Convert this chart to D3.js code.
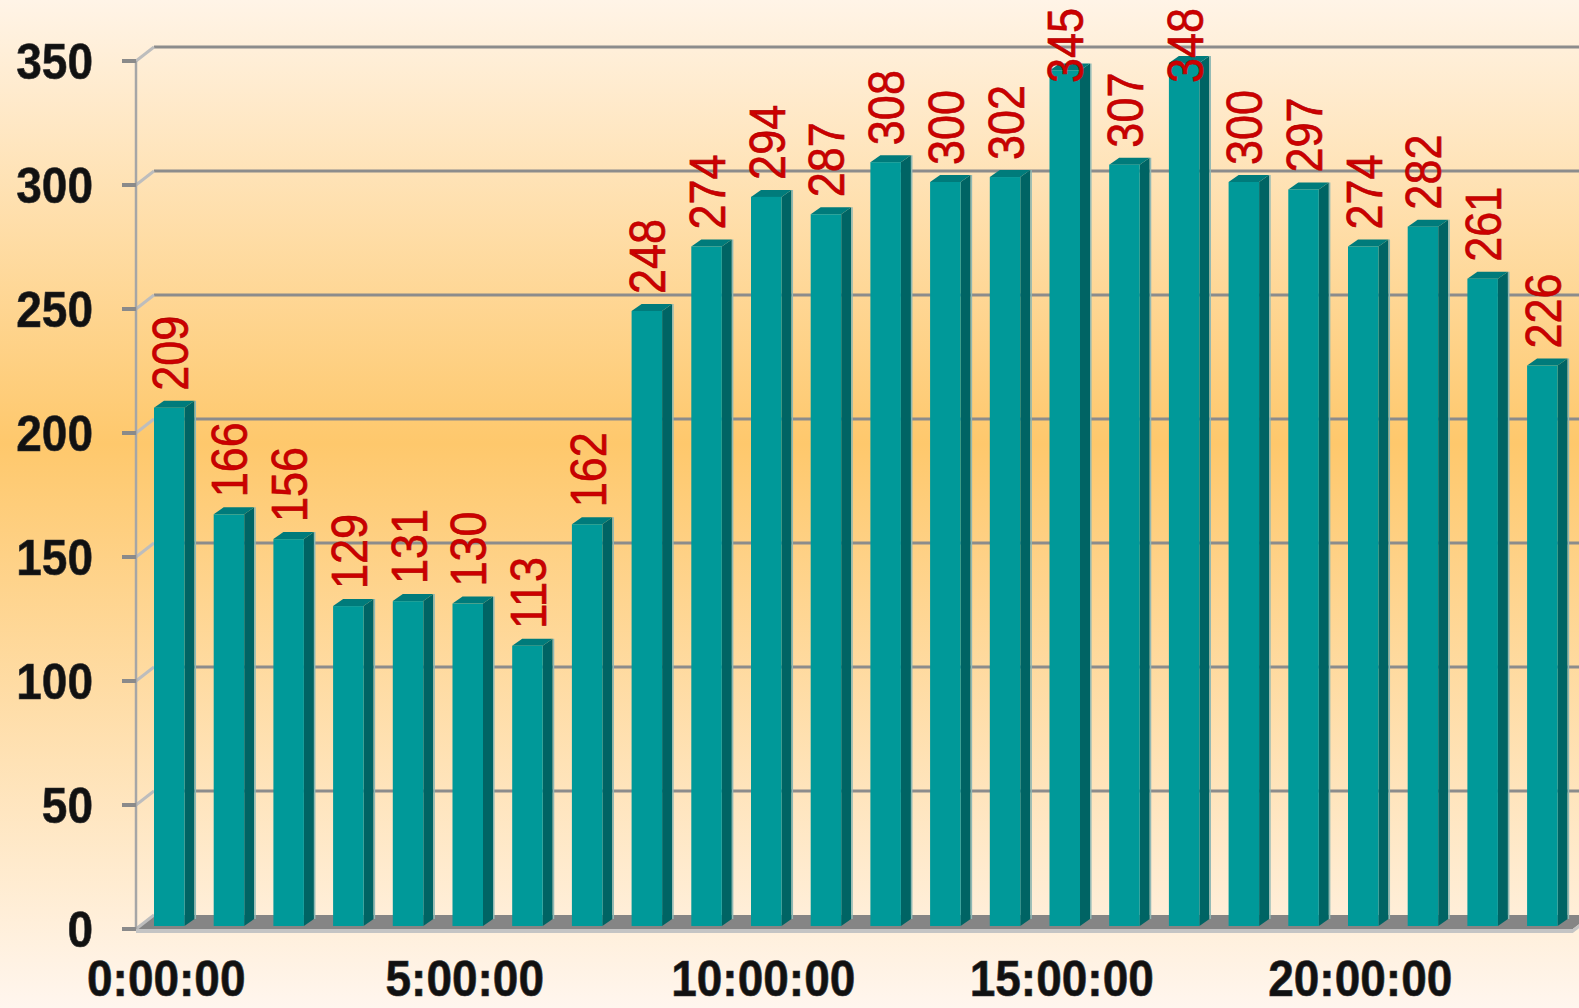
<!DOCTYPE html>
<html>
<head>
<meta charset="utf-8">
<script src="https://cdn.jsdelivr.net/npm/d3@7"></script>
<style>
  html, body { margin: 0; padding: 0; overflow: hidden; }
  svg { display: block; }
</style>
</head>
<body>
<svg id="chart" width="1579" height="1008"></svg>
<script>
// ---- data ----
const hours = ["0:00:00","1:00:00","2:00:00","3:00:00","4:00:00","5:00:00","6:00:00","7:00:00",
  "8:00:00","9:00:00","10:00:00","11:00:00","12:00:00","13:00:00","14:00:00","15:00:00",
  "16:00:00","17:00:00","18:00:00","19:00:00","20:00:00","21:00:00","22:00:00","23:00:00"];
const values = [209,166,156,129,131,130,113,162,248,274,294,287,308,300,302,345,307,348,300,297,274,282,261,226];
const yTicks = [0,50,100,150,200,250,300,350];
const xLabelShown = ["0:00:00","5:00:00","10:00:00","15:00:00","20:00:00"];

// ---- layout ----
const W = 1579, H = 1008;
const svg = d3.select("#chart");
const depthX = 18, depthY = -14;     // wall depth
const barDX = 10, barDY = -7;        // bar depth
const axisX = 136;

const yFront = d3.scaleLinear().domain([0, 350]).range([929, 61]);
const yBack  = d3.scaleLinear().domain([0, 350]).range([929 + depthY, 61 + depthY]);
const yBar   = d3.scaleLinear().domain([0, 350]).range([926, 58]);
const x = d3.scaleBand().domain(hours).range([139.4, 139.4 + 24 * 59.7])
  .paddingInner(0.489).paddingOuter(0.2445);

// ---- background ----
const defs = svg.append("defs");
const bg = defs.append("linearGradient").attr("id", "bg").attr("x1", 0).attr("y1", 0).attr("x2", 0).attr("y2", 1);
bg.append("stop").attr("offset", "0%").attr("stop-color", "#fff4e7");
bg.append("stop").attr("offset", "44%").attr("stop-color", "#fec86c");
bg.append("stop").attr("offset", "100%").attr("stop-color", "#fff6ee");
svg.append("rect").attr("width", W).attr("height", H).attr("fill", "url(#bg)");

// ---- floor ----
const floorRight = axisX + 24 * 59.7 + 4;
svg.append("path")
  .attr("d", `M${axisX},${yFront(0)} L${axisX + depthX},${yBack(0)} L${floorRight + depthX},${yBack(0)} L${floorRight},${yFront(0)} Z`)
  .attr("fill", "#858585");
svg.append("path")
  .attr("d", `M${axisX},${yFront(0)} L${floorRight},${yFront(0)} L${floorRight + depthX},${yBack(0)} L${floorRight + depthX},${yBack(0) + 4} L${floorRight},${yFront(0) + 4} L${axisX},${yFront(0) + 4} Z`)
  .attr("fill", "#c4c4c4");

// ---- gridlines (back wall) ----
svg.append("g").selectAll("line").data(yTicks.filter(d => d > 0)).join("line")
  .attr("x1", axisX + depthX).attr("x2", W)
  .attr("y1", d => yBack(d)).attr("y2", d => yBack(d))
  .attr("stroke", "#8c8c8c").attr("stroke-width", 3);

// side-wall diagonals
svg.append("g").selectAll("line").data(yTicks).join("line")
  .attr("x1", axisX).attr("y1", d => yFront(d))
  .attr("x2", axisX + depthX).attr("y2", d => yBack(d))
  .attr("stroke", "#bdbdbd").attr("stroke-width", 3);

// vertical axis line
svg.append("line").attr("x1", axisX).attr("x2", axisX)
  .attr("y1", yFront(350)).attr("y2", yFront(0))
  .attr("stroke", "#a6a6a6").attr("stroke-width", 2.5);

// tick marks
svg.append("g").selectAll("line").data(yTicks).join("line")
  .attr("x1", axisX - 14).attr("x2", axisX)
  .attr("y1", d => yFront(d)).attr("y2", d => yFront(d))
  .attr("stroke", "#8a8a8a").attr("stroke-width", 4);

// y tick labels
svg.append("g").selectAll("text").data(yTicks).join("text")
  .attr("transform", d => `translate(93,${yFront(d)}) scale(1,1.1)`)
  .attr("text-anchor", "end").attr("dy", "0.36em")
  .attr("font-family", "Liberation Sans, Arial, sans-serif")
  .attr("font-weight", "bold").attr("font-size", 46)
  .attr("fill", "#111").attr("stroke", "#333").attr("stroke-width", 0.6)
  .text(d => d);

// ---- bars ----
const bw = x.bandwidth();
const bars = svg.append("g").selectAll("g").data(values.map((v, i) => ({h: hours[i], v}))).join("g");
// side face
bars.append("path")
  .attr("d", d => {
    const x0 = x(d.h) + bw, yt = yBar(d.v), yb = yBar(0);
    return `M${x0},${yt} L${x0 + barDX},${yt + barDY} L${x0 + barDX},${yb + barDY} L${x0},${yb} Z`;
  })
  .attr("fill", "#006464");
// light edge of side
bars.append("line")
  .attr("x1", d => x(d.h) + bw + barDX + 0.8).attr("x2", d => x(d.h) + bw + barDX + 0.8)
  .attr("y1", d => yBar(d.v) + barDY).attr("y2", d => yBar(0) + barDY)
  .attr("stroke", "#8fb8b4").attr("stroke-width", 1.5);
// top face
bars.append("path")
  .attr("d", d => {
    const x0 = x(d.h), yt = yBar(d.v);
    return `M${x0},${yt} L${x0 + barDX},${yt + barDY} L${x0 + bw + barDX},${yt + barDY} L${x0 + bw},${yt} Z`;
  })
  .attr("fill", "#007b7b");
// front face
bars.append("rect")
  .attr("x", d => x(d.h)).attr("width", bw)
  .attr("y", d => yBar(d.v)).attr("height", d => yBar(0) - yBar(d.v))
  .attr("fill", "#009999");

// ---- value labels ----
svg.append("g").selectAll("text").data(values.map((v, i) => ({h: hours[i], v}))).join("text")
  .attr("transform", d => {
    const cx = x(d.h) + bw / 2 + 1.5;
    let y0 = yBar(d.v) - 17;
    if (y0 - 76 < 7) y0 = 83;
    return `translate(${cx + 17},${y0}) rotate(-90) scale(1,1.1)`;
  })
  .attr("text-anchor", "start")
  .attr("font-family", "Liberation Sans, Arial, sans-serif")
  .attr("font-size", 45).attr("fill", "#cc0000")
  .attr("stroke", "#b00000").attr("stroke-width", 0.6)
  .text(d => d.v);

// ---- x axis labels ----
svg.append("g").selectAll("text").data(xLabelShown).join("text")
  .attr("transform", d => `translate(${x(d) + bw / 2 - 3},${978}) scale(1,1.08)`)
  .attr("text-anchor", "middle").attr("dy", "0.36em")
  .attr("font-family", "Liberation Sans, Arial, sans-serif")
  .attr("font-weight", "bold").attr("font-size", 46)
  .attr("fill", "#111").attr("stroke", "#333").attr("stroke-width", 0.6)
  .text(d => d);
</script>
</body>
</html>
